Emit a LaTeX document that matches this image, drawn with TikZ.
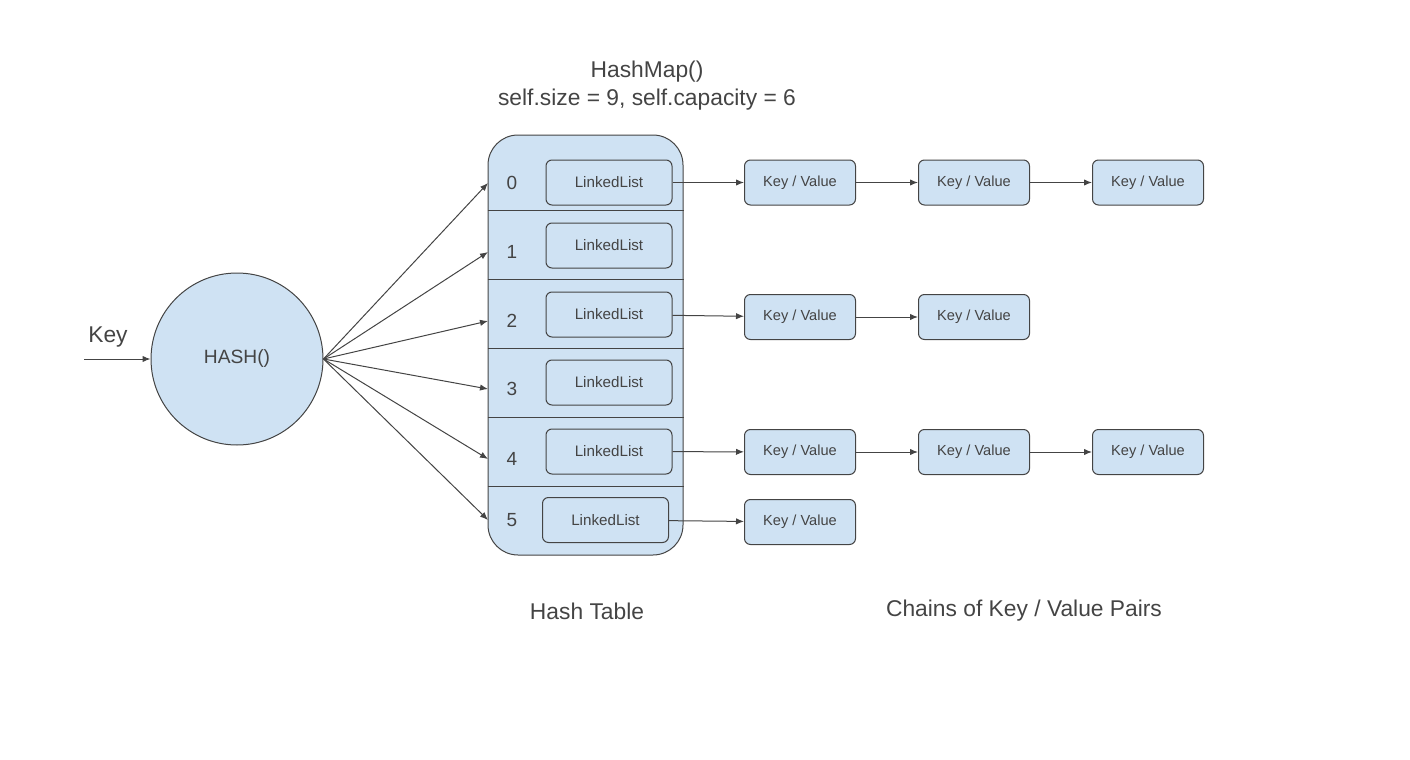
\documentclass[tikz,border=0pt]{standalone}
\usepackage{fontspec}
\setmainfont{Liberation Sans}
\usetikzlibrary{positioning,chains,arrows.meta,calc}
\definecolor{myblue}{RGB}{207,226,243}
\definecolor{mygray}{RGB}{68,68,68}

\begin{document}
\begin{tikzpicture}[x=0.5pt,y=-0.5pt,
		  color=mygray,line width=0.5pt,
		  bigtext/.style={font=\fontsize{11.4}{14}\selectfont},
		  llnode/.style={draw,fill=myblue,rounded corners=3pt,minimum width=63pt,minimum height=22.5pt,font=\fontsize{7.6}{9}\selectfont},
		  kvnode/.style={draw,fill=myblue,rounded corners=3pt,minimum width=55.5pt,minimum height=22.5pt,font=\fontsize{7.3}{9}\selectfont},
		  arr/.style={-{Latex[length=4pt,width=3.2pt]}}
		]
			\useasboundingbox (0,0) rectangle (1410,760);

			% the title
			\node[bigtext,align=center] (title) at (647,86) {HashMap()\\self.size = 9, self.capacity = 6};

			% the hash function
			\node[circle,draw,fill=myblue,minimum size=86pt,font=\fontsize{9.6}{11}\selectfont] (hash) at (237,359) {HASH()};
			\coordinate (keyin) at (84,359);
			\node[bigtext] (key) at (108,337) {Key};
			\draw[arr] (keyin) -- (hash.west);

			% the hash table
			\node[draw,fill=myblue,rounded corners=15pt,minimum width=97.5pt,minimum height=210pt] (table) at (585.5,345) {};
			\foreach \y in {210,279,348,417,486}
			  \draw (table.west |- 0,\y) -- (table.east |- 0,\y);

			% the buckets
			\foreach \i/\y/\lx/\ly in {0/183/609/182.5,1/252/609/245.5,2/321/609/314.5,3/389/609/382.5,4/459/609/451.5,5/520/605.5/520}{
			  \node[font=\fontsize{9.5}{11}\selectfont] (n\i) at (512,\y) {\i};
			  \node[llnode] (ll\i) at (\lx,\ly) {LinkedList};
			  \coordinate (in\i) at (488,\y);
			  \draw[arr] (hash.east) -- (in\i);
			}

			% the chains of key / value pairs
			\foreach \r/\y/\n in {0/182.5/3,2/317/2,4/452/3,5/522/1}{
			  \begin{scope}[start chain=going right,node distance=31pt]
			  \foreach \j in {1,...,\n}{
			    \ifnum\j=1
			      \node[kvnode,on chain] (kv\r\j) at (800,\y) {Key / Value};
			    \else
			      \node[kvnode,on chain,join=by arr] (kv\r\j) {Key / Value};
			    \fi
			  }
			  \end{scope}
			  \draw[arr] (ll\r) -- (kv\r1);
			}

			% the captions
			\node[bigtext] (tablelabel) at (587,611) {Hash Table};
			\node[bigtext] (chainlabel) at (1024,611) {Chains of Key / Value Pairs};

		\end{tikzpicture}
\end{document}
